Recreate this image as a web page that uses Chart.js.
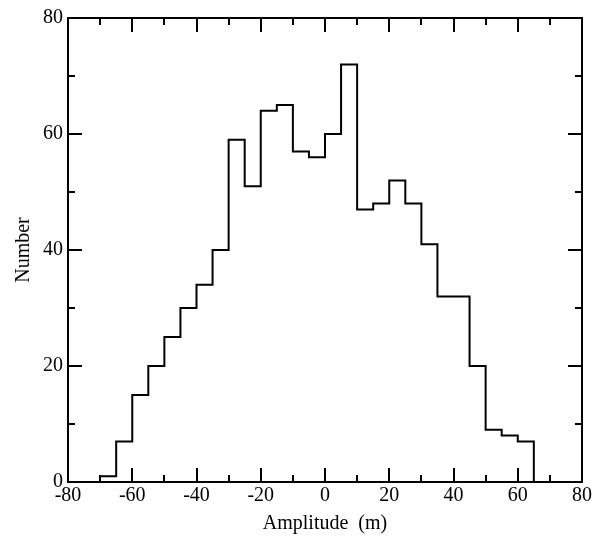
<!DOCTYPE html>
<html>
<head>
<meta charset="utf-8">
<script src="https://cdn.jsdelivr.net/npm/chart.js@4/dist/chart.umd.min.js"></script>
<style>
  html, body { margin: 0; padding: 0; background: #fff; }
  #wrap { width: 599px; height: 536px; }
</style>
</head>
<body>
<div id="wrap"><canvas id="chart"></canvas></div>
<script>
"use strict";

// bin left edges (m) and counts per bin
const binEdges = [-70, -65, -60, -55, -50, -45, -40, -35, -30, -25, -20, -15, -10, -5,
  0, 5, 10, 15, 20, 25, 30, 35, 40, 45, 50, 55, 60];
const counts = [1, 7, 15, 20, 25, 30, 34, 40, 59, 51, 64, 65, 57, 56,
  60, 72, 47, 48, 52, 48, 41, 32, 32, 20, 9, 8, 7];
const lastEdge = 65;

const xTicks = [-80, -60, -40, -20, 0, 20, 40, 60, 80];
const yTicks = [0, 20, 40, 60, 80];

// step outline: each bin starts at its edge, last edge drops back to zero
const points = binEdges.map((e, i) => ({ x: e, y: counts[i] }));
points.push({ x: lastEdge, y: counts[counts.length - 1] });
points.push({ x: lastEdge, y: 0 });

const FONT = "'Liberation Serif', 'Times New Roman', serif";

// inward ticks on all four sides + frame
const frameTicks = {
  id: "frameTicks",
  afterDraw(chart) {
    const { ctx, chartArea: a, scales } = chart;
    const xs = scales.x, ys = scales.y;
    ctx.save();
    ctx.strokeStyle = "#000";
    ctx.lineWidth = 2;
    ctx.strokeRect(a.left, a.top, a.right - a.left, a.bottom - a.top);
    ctx.beginPath();
    for (let v = -80; v <= 80; v += 10) {
      const px = Math.round(xs.getPixelForValue(v));
      const len = v % 20 === 0 ? 14 : 7;
      ctx.moveTo(px, a.bottom); ctx.lineTo(px, a.bottom - len);
      ctx.moveTo(px, a.top); ctx.lineTo(px, a.top + len);
    }
    for (let v = 0; v <= 80; v += 10) {
      const py = Math.round(ys.getPixelForValue(v));
      const len = v % 20 === 0 ? 14 : 7;
      ctx.moveTo(a.left, py); ctx.lineTo(a.left + len, py);
      ctx.moveTo(a.right, py); ctx.lineTo(a.right - len, py);
    }
    ctx.stroke();
    ctx.restore();
  },
};

const config = {
  type: "line",
  data: {
    datasets: [{
      data: points,
      stepped: "before",
      borderColor: "#000",
      borderWidth: 2,
      pointRadius: 0,
      fill: false,
    }],
  },
  options: {
    responsive: true,
    maintainAspectRatio: false,
    animation: false,
    layout: { padding: { top: 18, right: 17, left: 0, bottom: 0 } },
    plugins: { legend: { display: false }, tooltip: { enabled: false } },
    scales: {
      x: {
        type: "linear",
        min: -80,
        max: 80,
        afterBuildTicks: (s) => { s.ticks = xTicks.map((v) => ({ value: v })); },
        afterFit: (s) => { s.height = 54; },
        grid: { display: false, drawTicks: false },
        border: { display: false },
        ticks: { color: "#000", padding: 2, maxRotation: 0, font: { family: FONT, size: 20 } },
        title: {
          display: true,
          text: "Amplitude  (m)",
          color: "#000",
          padding: { top: 1, bottom: 0 },
          font: { family: FONT, size: 20 },
        },
      },
      y: {
        min: 0,
        max: 80,
        afterBuildTicks: (s) => { s.ticks = yTicks.map((v) => ({ value: v })); },
        afterFit: (s) => { s.width = 68; },
        grid: { display: false, drawTicks: false },
        border: { display: false },
        ticks: { color: "#000", padding: 5, font: { family: FONT, size: 20 } },
        title: {
          display: true,
          text: "Number",
          color: "#000",
          padding: { top: 12, bottom: 0 },
          font: { family: FONT, size: 20 },
        },
      },
    },
  },
  plugins: [frameTicks],
};

const myChart = new Chart(document.getElementById("chart"), config);
</script>
</body>
</html>
